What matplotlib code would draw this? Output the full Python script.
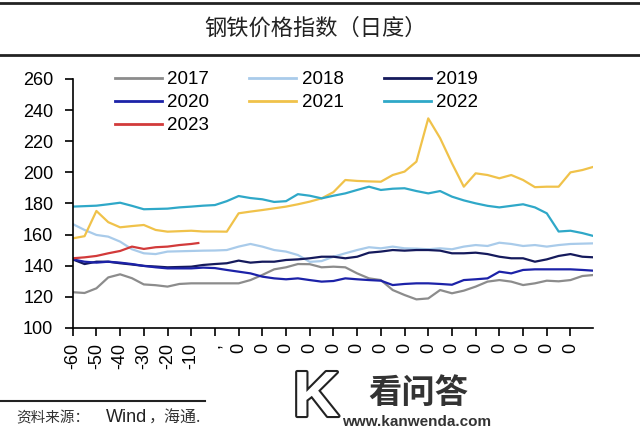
import matplotlib
matplotlib.use("Agg")
import matplotlib.pyplot as plt
import matplotlib.patheffects as pe

plt.rcParams['font.family'] = ['Liberation Sans', 'Noto Sans CJK SC', 'DejaVu Sans']

days = list(range(-60, 161, 5))

s2017 = [123, 122.5, 125.5, 132.5, 134.5, 132, 128, 127.5, 126.6, 128.3, 128.7, 128.7, 128.7, 128.7, 128.7,
         130.8, 134.1, 137.7, 139, 141.1, 141, 139, 139.4, 139, 135.1, 131.9, 130.8, 124.4, 121.2, 118.4,
         119, 124.4, 122.3, 124, 126.6, 129.8, 130.8, 129.8, 127.6, 128.7, 130.4, 130, 130.8, 133.4, 134.1]
s2018 = [166.8, 163, 159.8, 158.7, 155.5, 150.6, 148, 147.5, 149.1, 149.3, 149.5, 149.7, 149.8, 150.1, 152.3,
         154, 152.3, 150.1, 149.1, 146.9, 142.5, 143, 145.8, 148, 150.1, 151.9, 151.2, 152.3, 151.2, 151,
         150.6, 151.2, 150.6, 152.3, 153.3, 152.7, 154.8, 154, 152.7, 153.3, 152.3, 153.3, 154, 154.2, 154.4]
s2019 = [144.1, 141.1, 142.6, 142.6, 141.6, 140.8, 139.9, 139.5, 139, 139.2, 139.4, 140.5, 141.1, 141.6, 143.3,
         142, 142.6, 142.6, 143.7, 144.1, 144.8, 145.8, 145.8, 144.8, 145.8, 148.4, 149.1, 150.1, 149.7, 150.1,
         150.1, 149.7, 148, 148, 148.4, 147.5, 145.8, 144.8, 144.8, 142.6, 144.1, 146.3, 147.5, 145.8, 145.4]
s2020 = [144.1, 142.6, 142, 142.6, 142, 141.1, 139.9, 139, 138.3, 138.3, 138.3, 138.8, 138.5, 137.3, 136.2,
         135.1, 133, 131.9, 131.3, 131.9, 130.8, 129.8, 130.2, 131.9, 131.3, 130.8, 130.4, 127.6, 128.3, 128.7,
         128.7, 128.3, 127.8, 130.8, 131.3, 131.9, 136.2, 135.1, 137.3, 137.7, 137.7, 137.7, 137.7, 137.3, 136.8]
s2021 = [157.6, 159, 175.2, 168, 164.7, 165.5, 166.2, 163, 161.9, 162.2, 162.5, 162, 162, 161.9, 173.7,
         174.8, 175.8, 176.9, 178, 179.5, 181.2, 183.3, 187.3, 195.1, 194.5, 194.2, 194, 198.3, 200.5, 206.9,
         234.7, 222, 205.8, 190.8, 199.4, 198.3, 196.2, 198.3, 195.1, 190.5, 190.8, 190.8, 200, 201.5, 203.7]
s2022 = [178, 178.3, 178.6, 179.5, 180.5, 178.5, 176.3, 176.5, 176.7, 177.5, 178, 178.6, 179, 181.5, 184.8,
         183.5, 182.7, 181, 181.5, 186, 185, 183.3, 185, 186.5, 188.7, 190.8, 188.7, 189.5, 189.8, 188,
         186.5, 188, 184.4, 182, 180.1, 178.5, 177.5, 178.5, 179.5, 177.5, 173.7, 162, 162.5, 161, 159]
days2023 = [-60, -55, -50, -45, -40, -35, -30, -25, -20, -15, -10, -7]
s2023 = [144.8, 145.4, 146.3, 148, 149.5, 152.3, 150.8, 151.9, 152.3, 153.3, 154, 154.6]

years = ['2017', '2018', '2019', '2020', '2021', '2022', '2023']
colors = ['#8c8c8c', '#a9cbea', '#151a5c', '#1c22a8', '#f0c24a', '#2fa8c8', '#d23a3a']

x_ticks = list(range(-60, 151, 10))
x_labels = ['-60', '-50', '-40', '-30', '-20', '-10', ','] + ['0'] * 15
y_ticks = list(range(100, 261, 20))

W, H = 640, 434
fig = plt.figure(figsize=(6.4, 4.34), dpi=100)
ax = fig.add_axes([72.7 / W, 1 - 328 / H, (593 - 72.7) / W, (328 - 79) / H])

series = [s2017, s2018, s2019, s2020, s2021, s2022]
handles = {}
for yr, col, s in zip(years[:6], colors[:6], series):
    h, = ax.plot(days, s, color=col, lw=1.6, label=yr)
    handles[yr] = h
h, = ax.plot(days2023, s2023, color=colors[6], lw=1.6, label='2023')
handles['2023'] = h

ax.set_xlim(-60, 159.5)
ax.set_ylim(100, 260)
ax.set_yticks(y_ticks)
ax.set_xticks(x_ticks)
ax.set_xticklabels(x_labels, rotation=90)
for sp in ['top', 'right']:
    ax.spines[sp].set_visible(False)
ax.spines['left'].set_linewidth(1.2)
ax.spines['bottom'].set_linewidth(1.2)
ax.tick_params(axis='both', direction='out', length=6, width=1.2, labelsize=13, colors='black')
ax.tick_params(axis='y', pad=8)
ax.tick_params(axis='x', pad=5)

order = ['2017', '2020', '2023', '2018', '2021', '2019', '2022']
leg = fig.legend([handles[k] for k in order], order, ncol=3, loc='upper left',
                 bbox_to_anchor=(115 / W, 1 - 71 / H), frameon=False, fontsize=13.5,
                 handlelength=2.5, handletextpad=0.28, columnspacing=2.15,
                 labelspacing=0.32, borderpad=0, borderaxespad=0)
for lh in leg.get_lines():
    lh.set_linewidth(2)

# title and rules
fig.add_artist(plt.Line2D([0, 1], [1 - 3 / H, 1 - 3 / H], color='#222222', lw=2))
fig.add_artist(plt.Line2D([0, 1], [1 - 55 / H, 1 - 55 / H], color='#222222', lw=2))
fig.text(0.493, 1 - 28 / H, '钢铁价格指数（日度）', ha='center', va='center', fontsize=16,
         family=['Noto Sans CJK SC', 'DejaVu Sans'], color='#222222')

# source
fig.add_artist(plt.Line2D([0, 205 / W], [1 - 401 / H, 1 - 401 / H], color='#222222', lw=1.5))
cjk = ['Noto Sans CJK SC', 'DejaVu Sans']
fig.text(16 / W, 1 - 418 / H, '资料来源：', ha='left', va='center', fontsize=10.5, family=cjk, color='#333333')
fig.text(106 / W, 1 - 418 / H, 'Wind', ha='left', va='center', fontsize=13, color='#222222')
fig.text(149 / W, 1 - 418 / H, '，海通.', ha='left', va='center', fontsize=11.5, family=cjk, color='#333333')

# watermark
fig.text(316 / W, 1 - 399 / H, 'K', ha='center', va='center', fontsize=46, color='white',
         fontweight='bold', path_effects=[pe.Stroke(linewidth=3, foreground='#222222'), pe.Normal()])
fig.text(418 / W, 1 - 393 / H, '看问答', ha='center', va='center', fontsize=24, fontweight='bold',
         color='#333333', family=cjk)
fig.text(417 / W, 1 - 422 / H, 'www.kanwenda.com', ha='center', va='center', fontsize=11,
         fontweight='bold', color='#333333')

fig.savefig('out.png', dpi=100)
